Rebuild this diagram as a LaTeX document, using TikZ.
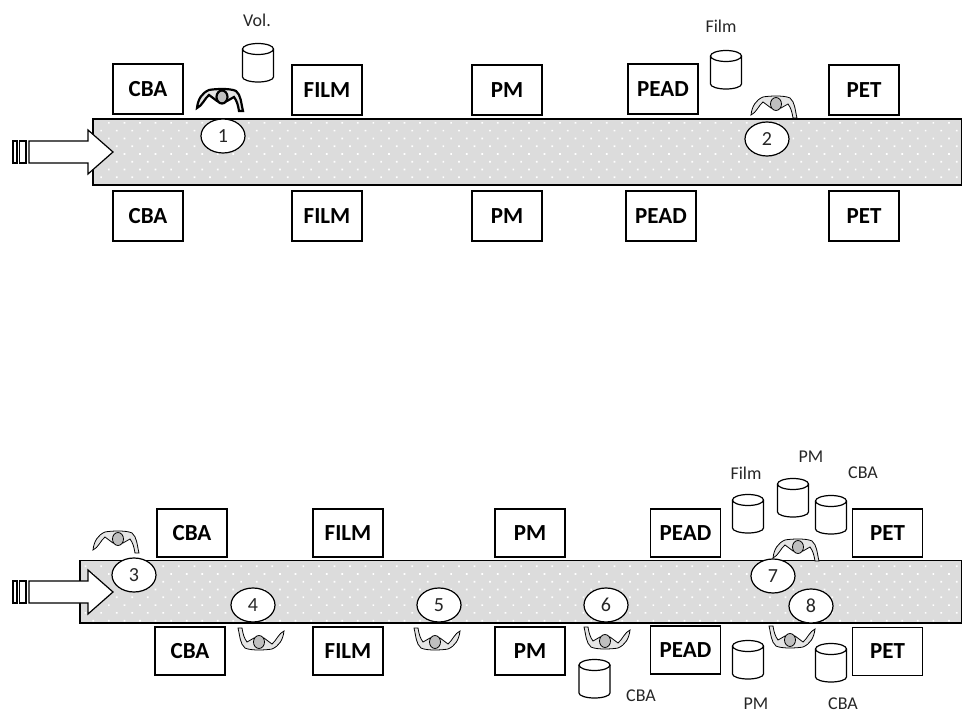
\documentclass[tikz,border=0pt]{standalone}
\usepackage{fontspec}
\setmainfont{Carlito}
\usetikzlibrary{shapes.geometric, patterns.meta}
\definecolor{cgrey}{HTML}{DCDCDC}
\definecolor{chead}{HTML}{BFBFBF}
\tikzset{
  every picture/.style={line width=1.2pt},
  stationbox/.style={draw=black, fill=white, minimum width=70pt, minimum height=#1, inner sep=0pt, font=\fontsize{23}{23}\selectfont\bfseries},
  stationbox/.default=50pt,
  belt/.style={draw=black, preaction={fill=cgrey}, pattern={Dots[distance=11pt, radius=1.2pt, angle=45]}, pattern color=white},
  tag/.style={font=\fontsize{18}{18}\selectfont, text=black!85, inner sep=0pt},
  num/.style={draw=black, fill=white, ellipse, minimum width=44pt, minimum height=34pt, inner sep=0pt, text=black!85, font=\fontsize{20}{20}\selectfont},
  person/.pic={
    \draw[fill=black!10, pic actions] (-25,11) .. controls (-24,2) and (-20,-4) .. (-13,-7) .. controls (-8,-8) and (8,-9) .. (14,-6) .. controls (19,-2) and (19,6) .. (21,14)
      -- (17,14) .. controls (16,8) and (15,4) .. (12,0) -- (5,4) -- (-5,4) -- (-13,-2) .. controls (-17,1) and (-20,9) .. (-25,11) -- cycle;
    \draw[fill=chead, pic actions] (0,0) circle (5.5 and 6.5);
  },
  drum/.pic={
    \draw[fill=white] (-15.5,-14) -- (-15.5,14) arc (180:0:15.5 and 5) -- (15.5,-14);
    \draw[fill=white] (0,-14) circle (15.5 and 5.5);
  },
  feed/.pic={
    \draw[fill=white] (0,-11) rectangle (4,11);
    \draw[fill=white] (6.5,-11) rectangle (13,11);
    \draw[fill=white] (16,-11) -- (75,-11) -- (75,-22) -- (100,0) -- (75,22) -- (75,11) -- (16,11) -- cycle;
  },
}

\begin{document}
\begin{tikzpicture}[x=1pt, y=-1pt]
  \useasboundingbox (0,0) rectangle (962,714);
  % belts
  \path[belt] (93,119) rectangle (961.5,185);
  \path[belt] (80,560.5) rectangle (961.5,623);
  \pic at (13,152) {feed};
  \pic at (13,592) {feed};
  % stations
  \foreach \n/\x/\y/\t in {a1/148/89/CBA, a2/327/90/FILM, a3/507/90/PM, a4/663/89/PEAD, a5/864/90/PET,
    b1/148/216/CBA, b2/327/216/FILM, b3/507/216/PM, b4/661/216/PEAD, b5/864/216/PET}
    \node[stationbox] (\n) at (\x,\y) {\t};
  \foreach \n/\x/\y/\t in {c1/192/533/CBA, c2/348/533/FILM, c3/530/533/PM, c4/685.5/533/PEAD, c5/887.5/533/PET,
    d1/190/651/CBA, d2/348/651/FILM, d3/530/651/PM, d4/685.5/650/PEAD, d5/887.5/651.5/PET}
    \node[stationbox=48pt] (\n) at (\x,\y) {\t};
  % bins
  \foreach \x/\y in {258/63, 726/70, 748/514, 793/498, 831/515, 594.5/679, 748/660, 831/663}
    \pic at (\x,\y) {drum};
  \foreach \n/\x/\y/\t in {lvol/257/20/Vol., lfilma/721/26/Film, lfilmb/746/473/Film, lpmb/811/457/PM, lcbab/863/473/CBA,
    lcbac/641/696/CBA, lpmc/756/704/PM, lcbad/843/704/CBA}
    \node[tag] (\n) at (\x,\y) {\t};
  % workers
  \pic[line width=2.2pt] at (222,97) {person};
  \foreach \x/\y in {776/104, 118/539, 798/547}
    \pic[line width=0.8pt] at (\x,\y) {person};
  \foreach \x/\y in {259/642, 435/642, 605/641, 790/640}
    \pic[line width=0.8pt, rotate=180] at (\x,\y) {person};
  % numbers
  \foreach \n/\x/\y in {1/223/136, 2/767/139, 3/134/575, 4/253/605, 5/439/605, 6/606/605, 7/773/576, 8/811/606}
    \node[num] (s\n) at (\x,\y) {\n};
\end{tikzpicture}
\end{document}
